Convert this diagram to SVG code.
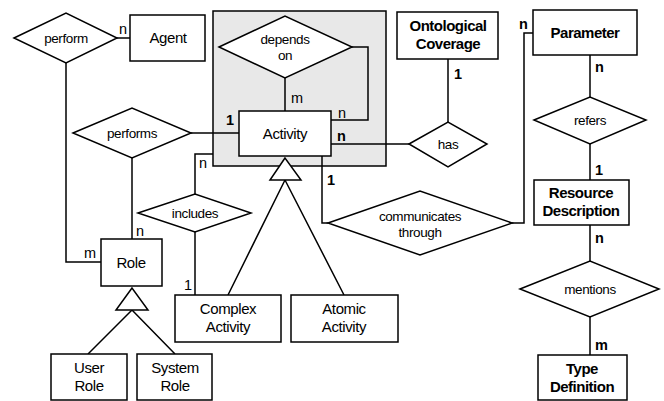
<svg xmlns="http://www.w3.org/2000/svg" width="664" height="401" viewBox="0 0 664 401">
<style>
.b{fill:#fff;stroke:#000;stroke-width:1.5}
.d{fill:#fff;stroke:#000;stroke-width:1.5}
.l{fill:none;stroke:#000;stroke-width:1.5}
text{font-family:"Liberation Sans",Arial,sans-serif;fill:#000}
.t{font-size:15px;text-anchor:middle;letter-spacing:-0.4px}
.tb{font-size:15px;text-anchor:middle;font-weight:bold;letter-spacing:-0.5px}
.r{font-size:13.5px;text-anchor:middle;letter-spacing:-0.4px}
.c{font-size:14.5px}
.cb{font-size:14.5px;font-weight:bold}
</style>
<rect id="activity-group" x="213" y="11" width="173" height="155" fill="#e8e8e8" stroke="#000" stroke-width="1.5"/>
<g id="connectors">
<path class="l" d="M117,38 H130"/>
<path class="l" d="M66,63 V262 H101"/>
<path class="l" d="M191,133 H239"/>
<path class="l" d="M132,158 V239"/>
<path class="l" d="M285,78 V111"/>
<path class="l" d="M352,47 H368 V120 H331"/>
<path class="l" d="M331,144 H409"/>
<path class="l" d="M448,122 V59"/>
<path class="l" d="M533,33 H524 V223 H512"/>
<path class="l" d="M322,156 V223 H328"/>
<path class="l" d="M590,55 V97"/>
<path class="l" d="M590,144 V180"/>
<path class="l" d="M590,225 V261"/>
<path class="l" d="M590,317 V355"/>
<path class="l" d="M195,194 V154 H213"/>
<path class="l" d="M195,232 V295"/>
<path class="l" d="M285,180 L228,295 M285,180 L344,295"/>
<path class="l" d="M132,310 L88,354 M132,310 L175,354"/>
<polygon class="d" points="285,158 270,180 301,180"/>
<polygon class="d" points="132,288 116,310 148,310"/>
</g>
<g id="perform"><polygon class="d" points="14,38 66,13 117,38 66,63"/><text class="r" x="66" y="43">perform</text></g>
<g id="agent"><rect class="b" x="130" y="15" width="75" height="46"/><text class="t" x="168" y="43">Agent</text></g>
<g id="performs"><polygon class="d" points="73,133 132,108 191,133 132,158"/><text class="r" x="132" y="138">performs</text></g>
<g id="depends-on"><polygon class="d" points="219,47 285,16 352,47 285,78"/><text class="r" x="285" y="44">depends</text><text class="r" x="285" y="60">on</text></g>
<g id="activity"><rect class="b" x="239" y="111" width="92" height="45"/><text class="t" x="285" y="139">Activity</text></g>
<g id="ontological-coverage"><rect class="b" x="397" y="12" width="101" height="47"/><text class="tb" x="448" y="31">Ontological</text><text class="tb" x="448" y="49">Coverage</text></g>
<g id="has"><polygon class="d" points="409,144 448,122 487,144 448,167"/><text class="r" x="448" y="149">has</text></g>
<g id="parameter"><rect class="b" x="533" y="10" width="104" height="45"/><text class="tb" x="585" y="38">Parameter</text></g>
<g id="refers"><polygon class="d" points="534,120 590,97 646,120 590,144"/><text class="r" x="590" y="125">refers</text></g>
<g id="resource-description"><rect class="b" x="534" y="180" width="95" height="45"/><text class="tb" x="581" y="198">Resource</text><text class="tb" x="581" y="216">Description</text></g>
<g id="mentions"><polygon class="d" points="520,289 590,261 659,289 590,317"/><text class="r" x="590" y="294">mentions</text></g>
<g id="type-definition"><rect class="b" x="538" y="355" width="89" height="45"/><text class="tb" x="582" y="374">Type</text><text class="tb" x="582" y="392">Definition</text></g>
<g id="communicates-through"><polygon class="d" points="328,223 420,191 512,223 420,255"/><text class="r" x="420" y="221">communicates</text><text class="r" x="420" y="237">through</text></g>
<g id="includes"><polygon class="d" points="138,213 195,194 251,213 195,232"/><text class="r" x="195" y="218">includes</text></g>
<g id="complex-activity"><rect class="b" x="175" y="295" width="106" height="47"/><text class="t" x="228" y="314">Complex</text><text class="t" x="228" y="332">Activity</text></g>
<g id="atomic-activity"><rect class="b" x="291" y="295" width="107" height="47"/><text class="t" x="344" y="314">Atomic</text><text class="t" x="344" y="332">Activity</text></g>
<g id="role"><rect class="b" x="101" y="239" width="61" height="47"/><text class="t" x="131" y="268">Role</text></g>
<g id="user-role"><rect class="b" x="51" y="354" width="76" height="46"/><text class="t" x="89" y="373">User</text><text class="t" x="89" y="391">Role</text></g>
<g id="system-role"><rect class="b" x="137" y="354" width="75" height="46"/><text class="t" x="175" y="373">System</text><text class="t" x="175" y="391">Role</text></g>
<g id="labels">
<text class="c" x="119" y="34">n</text>
<text class="c" x="84" y="258">m</text>
<text class="c" x="136" y="236">n</text>
<text class="c" x="291" y="103">m</text>
<text class="c" x="338" y="118">n</text>
<text class="cb" x="226" y="125">1</text>
<text class="cb" x="337" y="141">n</text>
<text class="cb" x="327" y="185">1</text>
<text class="cb" x="454" y="79">1</text>
<text class="cb" x="519" y="29">n</text>
<text class="cb" x="595" y="72">n</text>
<text class="cb" x="595" y="175">1</text>
<text class="cb" x="595" y="243">n</text>
<text class="cb" x="595" y="350">m</text>
<text class="c" x="199" y="168">n</text>
<text class="c" x="184" y="290">1</text>
</g>
</svg>
